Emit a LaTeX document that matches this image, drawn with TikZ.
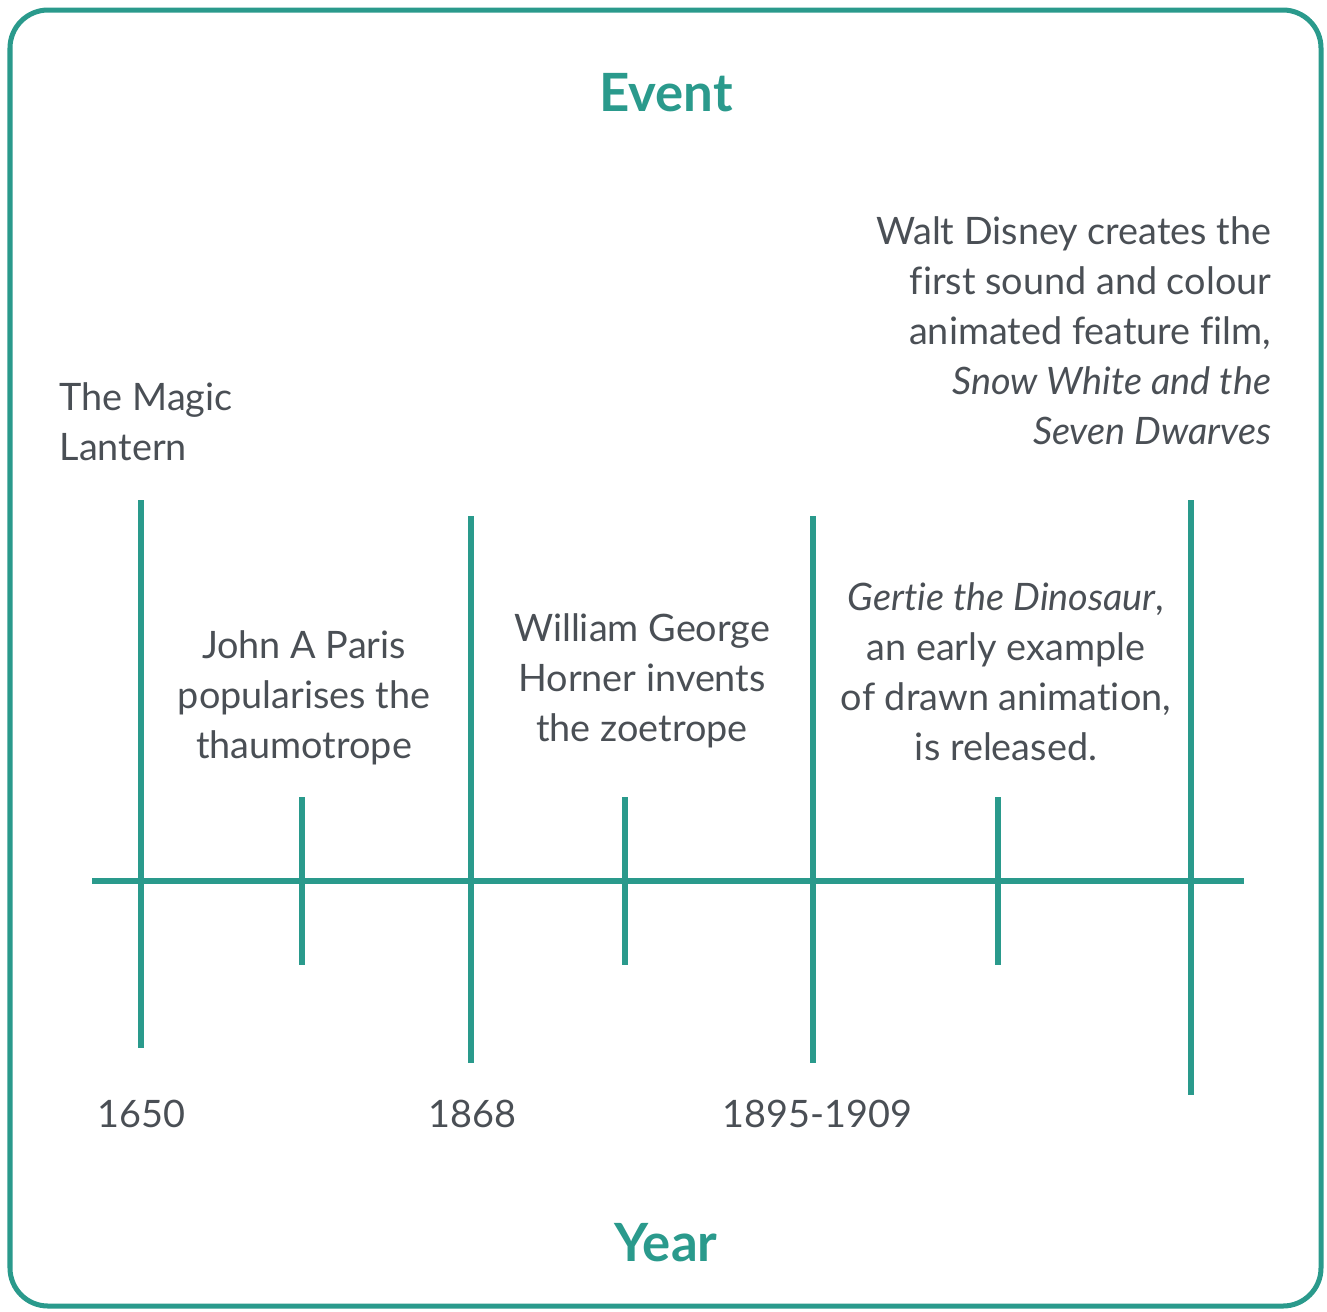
\documentclass[tikz,border=0pt]{standalone}
\usepackage{fontspec}
\setmainfont{Lato}[Ligatures={NoCommon}]
\usepackage{xcolor}
\usetikzlibrary{positioning}
\definecolor{timeteal}{HTML}{2A9A8C}
\definecolor{textgray}{HTML}{4A4F55}

\begin{document}
\begin{tikzpicture}[x=0.01cm, y=-0.01cm,
    frame/.style={draw=timeteal, line width=0.05cm, rounded corners=0.38cm},
    axisline/.style={draw=timeteal, line width=0.06cm},
    tickline/.style={draw=timeteal, line width=0.055cm},
    heading/.style={text=timeteal, font=\fontsize{15}{18}\selectfont\bfseries, inner sep=0pt},
    event/.style={text=textgray, font=\fontsize{10.75}{14.2}\selectfont, inner sep=0pt},
    yearlabel/.style={text=textgray, font=\fontsize{10.75}{14.2}\selectfont, inner sep=0pt, anchor=west}]
        \useasboundingbox (0,0) rectangle (1327,1311);

        % Outer frame
        \draw[frame] (10,10) rectangle (1321,1306);

        % Headings
        \node[heading] (eventhead) at (666,93) {Event};
        \node[heading] (yearhead) at (666,1243) {Year};

        % Time axis
        \coordinate (axisL) at (92,881);
        \coordinate (axisR) at (1244,881);
        \draw[axisline] (axisL) -- (axisR);

        % Ticks (long at the years, short in between)
        \foreach \x/\a/\b [count=\i] in {141/500/1048, 302/797/965, 471/516/1063,
            625/797/965, 813/516/1063, 998/797/965, 1191/500/1095} {
            \coordinate (tick\i top) at (\x,\a);
            \coordinate (tick\i bot) at (\x,\b);
            \draw[tickline] (tick\i top) -- (tick\i bot);
        }

        % Events
        \node[event, anchor=west, align=left] (lantern) at (59,422)
            {The Magic\\Lantern};
        \node[event, align=center] (paris) at (304,698)
            {John A Paris\\popularises the\\thaumotrope};
        \node[event, align=center] (horner) at (642,681)
            {William George\\Horner invents\\the zoetrope};
        \node[event, align=center] (gertie) at (1006,672)
            {\textit{Gertie the Dinosaur},\\an early example\\of drawn animation,\\is released.};
        \node[event, anchor=east, align=right] (disney) at (1272,331)
            {Walt Disney creates the\\first sound and colour\\animated feature film,\\\textit{Snow White and the}\\\textit{Seven Dwarves}};

        % Years
        \node[yearlabel] (y1650) at (97,1114) {1650};
        \node[yearlabel] (y1868) at (428,1114) {1868};
        \node[yearlabel] (y1895) at (722,1114) {1895-1909};
    \end{tikzpicture}
\end{document}
